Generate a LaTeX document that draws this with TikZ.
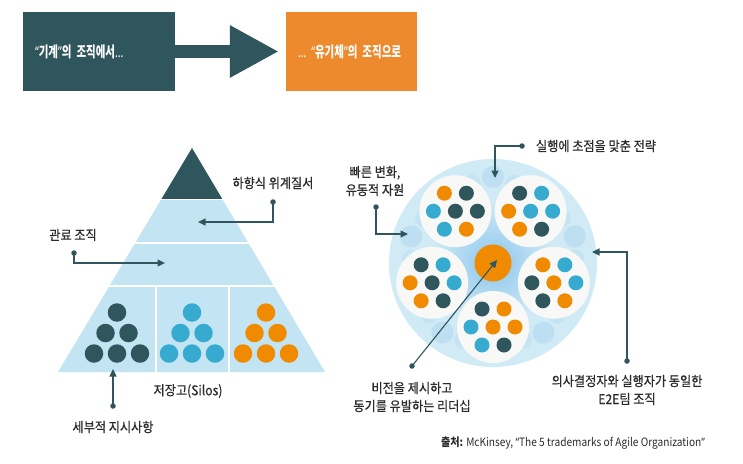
\documentclass[tikz,border=0pt]{standalone}
\usepackage{fontspec}
\setmainfont[FakeStretch=0.88]{Noto Sans CJK KR}
\newfontfamily\lblfont[FakeStretch=0.9,FakeBold=0.5]{Noto Sans CJK KR}
\newfontfamily\boxfont[FakeStretch=0.7]{Noto Sans CJK KR}
\newfontfamily\qfont[FakeStretch=0.7]{Noto Sans}
\newfontfamily\srcq[FakeStretch=0.88]{Noto Sans}
\usepackage{xcolor}
\usepackage{tikz}
\usetikzlibrary{arrows.meta,positioning,calc}
\definecolor{slate}{RGB}{47,86,93}
\definecolor{tangerine}{RGB}{238,138,46}
\definecolor{orng}{RGB}{240,138,0}
\definecolor{skyb}{RGB}{54,171,207}
\definecolor{paleblue}{RGB}{195,228,243}
\definecolor{ringblue}{RGB}{208,234,246}
\definecolor{petal}{RGB}{182,219,240}
\definecolor{glow}{RGB}{140,198,236}
\definecolor{cellwhite}{RGB}{248,248,246}
\definecolor{ink}{RGB}{43,43,43}
\newcommand{\oq}{{\qfont“}}
\newcommand{\cq}{{\qfont”}}

\begin{document}
\begin{tikzpicture}[x=1pt,y=-1pt,
  darkbox/.style={fill=slate,text=white,font=\boxfont\bfseries\fontsize{15}{18}\selectfont,align=left,inner xsep=12pt,inner ysep=0pt,minimum height=79pt},
  obox/.style={darkbox,fill=tangerine},
  bigarr/.style={-{Triangle[length=49pt,width=49pt]},line width=13pt,slate},
  lbl/.style={font=\lblfont\fontsize{13.5}{18}\selectfont,text=ink,align=center,inner sep=0pt},
  arr/.style={-{Triangle[length=7.5pt,width=7pt]},line width=1.1pt,slate},
  pin/.style={circle,fill=slate,inner sep=0pt,minimum size=5.5pt},
  silodot/.style={circle,inner sep=0pt,minimum size=18.5pt},
  celldot/.style={circle,inner sep=0pt,minimum size=15pt},
  cell/.style={circle,fill=cellwhite,inner sep=0pt,minimum size=72pt}]
\useasboundingbox[fill=white] (0,0) rectangle (743,463);
% top: machine -> organism
\node[darkbox,text width=128pt] (mach) at (99,51.5) {\oq 기계\cq 의 조직에서{\qfont…}};
\node[obox,text width=107pt] (orga) at (351.5,51.5) {{\qfont…} \oq 유기체\cq 의 조직으로};
\draw[bigarr] (mach.east) -- ([xshift=-7pt]orga.west);
% pyramid
\coordinate (apex) at (192,148);
\coordinate (bl) at (58,372);
\coordinate (br) at (325,372);
\fill[paleblue] (apex) -- (br) -- (bl) -- cycle;
\begin{scope}
\clip (apex) -- (br) -- (bl) -- cycle;
\fill[slate] (40,140) rectangle (340,199);
\draw[white,line width=1.6] (40,199.5) -- (340,199.5) (40,243) -- (340,243) (40,286) -- (340,286);
\draw[white,line width=1.6] (156,286) -- (156,380) (229,286) -- (229,380);
\end{scope}
\foreach \sx/\c [count=\k] in {117/slate,192/skyb,266/orng}
  \foreach \dx/\dy [count=\i] in {0/-20.5,-11.5/0,11.5/0,-23/20.5,0/20.5,23/20.5}
    \node[silodot,fill=\c] (silo\k-\i) at (\sx+\dx,333+\dy) {};
% agile circle
\coordinate (hub) at (493,263);
\fill[ringblue] (hub) circle (104);
\shade[inner color=glow,outer color=ringblue] (hub) circle (62);
\foreach \ang in {270,342,54,126,198} {
  \fill[petal,opacity=.7] ($(hub)+(\ang:86)$) circle (11);
  \fill[petal,opacity=.45] ($(hub)+(\ang+15:82)$) circle (9);
  \fill[petal,opacity=.45] ($(hub)+(\ang-15:82)$) circle (9);
}
\foreach \ang/\ca/\cb/\cc/\cd/\ce/\cf/\cg [count=\k] in {
  234/orng/slate/skyb/slate/slate/skyb/orng,
  306/slate/skyb/orng/skyb/skyb/orng/slate,
  162/slate/skyb/orng/slate/skyb/orng/slate,
  18/orng/skyb/slate/orng/skyb/slate/orng,
  90/slate/orng/skyb/orng/orng/skyb/slate} {
  \node[cell] (cell\k) at ($(hub)+(\ang:64)$) {};
  \foreach \dx/\dy/\c [count=\i] in {-11/-18/\ca,11/-18/\cb,-22/0/\cc,0/0/\cd,22/0/\ce,-11/18/\cf,11/18/\cg}
    \node[celldot,fill=\c] (cell\k-\i) at ($(cell\k)+(\dx,\dy)$) {};
}
\node[circle,fill=orng,inner sep=0pt,minimum size=37pt] (core) at (hub) {};
% labels, pyramid side
\node[lbl] (hier) at (273,183) {하향식 위계질서};
\node[lbl] (bureau) at (73,235) {관료 조직};
\node[lbl] (detail) at (113,427) {세부적 지시사항};
\node[lbl] (silos) at (188,391) {저장고(Silos)};
\node[pin] (phier) at (273,202) {};
\node[pin] (pbureau) at (74,253) {};
\node[pin] (pdetail) at (113,406) {};
\coordinate (thier) at (198,222);
\coordinate (tbureau) at (165,263);
\coordinate (tdetail) at (113,369);
\draw[arr] (phier.center) |- (thier);
\draw[arr] (pbureau.center) |- (tbureau);
\draw[arr] (pdetail.center) -- (tdetail);
% labels, agile side
\node[lbl] (strat) at (596,146) {실행에 초점을 맞춘 전략};
\node[lbl] (fluid) at (375,181) {빠른 변화,\\유동적 자원};
\node[lbl] (vision) at (412,397) {비전을 제시하고\\동기를 유발하는 리더십};
\node[lbl] (team) at (627,390) {의사결정자와 실행자가 동일한\\E2E팀 조직};
\node[pin] (pstrat) at (522,146) {};
\node[pin] (pfluid) at (376,207) {};
\node[pin] (pvision) at (412,366) {};
\node[pin] (pteam) at (627,361) {};
\coordinate (tstrat) at (495,178);
\coordinate (tfluid) at (408,234);
\coordinate (tvision) at (497,260);
\coordinate (tteam) at (592,252);
\draw[arr] (pstrat.center) -| (tstrat);
\draw[arr] (pfluid.center) |- (tfluid);
\draw[arr] (pvision.center) -- (tvision);
\draw[arr] (pteam.center) |- (tteam);
\node[lbl,font=\fontsize{11.5}{14}\selectfont] (source) at (573,443) {\textbf{출처:} McKinsey, {\srcq“}The 5 trademarks of Agile Organization{\srcq”}};
\end{tikzpicture}
\end{document}
